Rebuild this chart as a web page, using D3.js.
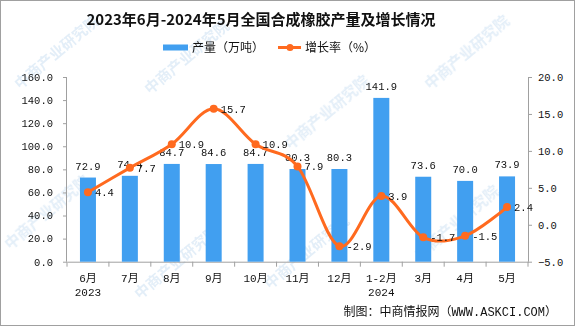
<!DOCTYPE html>
<html><head><meta charset="utf-8">
<script src="https://cdn.jsdelivr.net/npm/d3@7/dist/d3.min.js"></script>
<style>body{margin:0;background:#fff}svg{display:block}</style>
</head><body>
<svg id="c" width="575" height="326"></svg>
<script>
const categories = ["6月","7月","8月","9月","10月","11月","12月","1-2月","3月","4月","5月"];
const yearLabels = ["2023","","","","","","","2024","","",""];
const production = [72.9,74.4,84.7,84.6,84.7,80.3,80.3,141.9,73.6,70.0,73.9];
const growth = [4.4,7.7,10.9,15.7,10.9,7.9,-2.9,3.9,-1.7,-1.5,2.4];
const leftTicks = [0,20,40,60,80,100,120,140,160];
const rightTicks = [-5,0,5,10,15,20];

const svg = d3.select("#c");
const numFont = "'Liberation Mono','Noto Sans CJK SC',monospace";
const cjkFont = "'Noto Sans CJK SC',sans-serif";
const blue = "#419ff0", orange = "#ff6a1f", axisC = "#a0a0a0";

svg.append("rect").attr("x",0.5).attr("y",0.5).attr("width",574).attr("height",325)
  .attr("fill","#fff").attr("stroke","#a0a0a0");

// watermarks
const wm = svg.append("g").attr("fill","#9cc3e6").attr("opacity",0.28)
  .attr("font-family",cjkFont).attr("font-size",15).attr("font-weight","bold");
[[20,90],[150,95],[290,150],[430,90],[10,250],[140,300],[270,290],[420,260]].forEach(([x,y])=>{
  wm.append("text").attr("transform",`translate(${x},${y}) rotate(-40)`).text("中商产业研究院");
});

const L = 67, R = 528, T = 77, B = 261.7;
const x = d3.scaleBand().domain(categories).range([L,R]);
const yL = d3.scaleLinear().domain([0,160]).range([B,T]);
const yR = d3.scaleLinear().domain([-5,20]).range([B,T]);

// title
svg.append("text").attr("x",261).attr("y",25).attr("text-anchor","middle")
  .attr("font-family",cjkFont).attr("font-weight","bold").attr("font-size",15)
  .attr("fill","#111").text("2023年6月-2024年5月全国合成橡胶产量及增长情况");

// legend
svg.append("rect").attr("x",163).attr("y",44.5).attr("width",25).attr("height",6).attr("fill",blue);
svg.append("text").attr("x",192).attr("y",52).attr("font-family",cjkFont).attr("font-size",12)
  .attr("fill","#111").text("产量（万吨）");
svg.append("line").attr("x1",278).attr("x2",301).attr("y1",47.5).attr("y2",47.5)
  .attr("stroke",orange).attr("stroke-width",3);
svg.append("circle").attr("cx",290).attr("cy",47.5).attr("r",3.5).attr("fill",orange);
svg.append("text").attr("x",305).attr("y",52).attr("font-family",cjkFont).attr("font-size",12)
  .attr("fill","#111").text("增长率（%）");

// axes
const axL = svg.append("g").attr("transform",`translate(${L},0)`)
  .call(d3.axisLeft(yL).tickValues(leftTicks).tickFormat(d3.format(".1f")).tickSize(4).tickPadding(10));
const axR = svg.append("g").attr("transform",`translate(${R},0)`)
  .call(d3.axisRight(yR).tickValues(rightTicks).tickFormat(d3.format(".1f")).tickSize(4).tickPadding(6));
const axB = svg.append("g").attr("transform",`translate(0,${B})`)
  .call(d3.axisBottom(x).tickSize(0).tickFormat(""));
axB.selectAll(".tick").remove();
axB.selectAll(".b").data(d3.range(categories.length+1)).join("line")
  .attr("x1",i=>L+i*x.step()).attr("x2",i=>L+i*x.step()).attr("y1",0).attr("y2",5).attr("stroke",axisC);
[axL,axR,axB].forEach(a=>{
  a.selectAll("path,line").attr("stroke",axisC);
  a.selectAll("text").attr("font-family",numFont).attr("font-size",10.5).attr("fill","#111");
});
axL.select(".domain").attr("d",`M-0.5,${T}V${B}`);
axR.select(".domain").attr("d",`M0.5,${T}V${B}`);

// x labels
const xl = svg.append("g").attr("font-family",numFont).attr("font-size",11).attr("fill","#111").attr("text-anchor","middle");
categories.forEach((c,i)=>{
  const cx = x(c)+x.bandwidth()/2;
  xl.append("text").attr("x",cx).attr("y",282).text(c);
  if (yearLabels[i]) xl.append("text").attr("x",cx).attr("y",296).text(yearLabels[i]);
});

// bars
const bw = 16;
svg.append("g").selectAll("rect").data(production).join("rect")
  .attr("x",(d,i)=>x(categories[i])+x.bandwidth()/2-bw/2)
  .attr("y",d=>yL(d)).attr("width",bw).attr("height",d=>B-yL(d)).attr("fill",blue);
svg.append("g").selectAll("text").data(production).join("text")
  .attr("x",(d,i)=>x(categories[i])+x.bandwidth()/2).attr("y",d=>yL(d)-8)
  .attr("text-anchor","middle").attr("font-family",numFont).attr("font-size",10.5).attr("fill","#111")
  .text(d=>d.toFixed(1));

// line
const pts = growth.map((g,i)=>[x(categories[i])+x.bandwidth()/2, yR(g)]);
svg.append("path").attr("d",d3.line().curve(d3.curveCardinal.tension(0))(pts))
  .attr("fill","none").attr("stroke",orange).attr("stroke-width",3);
svg.append("g").selectAll("circle").data(pts).join("circle")
  .attr("cx",d=>d[0]).attr("cy",d=>d[1]).attr("r",4).attr("fill",orange);
svg.append("g").selectAll("text").data(growth).join("text")
  .attr("x",(d,i)=>pts[i][0]+7).attr("y",(d,i)=>pts[i][1]+4)
  .attr("font-family",numFont).attr("font-size",10.5).attr("fill","#111")
  .text(d=>d.toFixed(1));

// source
svg.append("text").attr("x",557).attr("y",316).attr("text-anchor","end")
  .attr("font-family",numFont).attr("font-size",12).attr("fill","#111")
  .text("制图：中商情报网（WWW.ASKCI.COM）");
</script>
</body></html>
